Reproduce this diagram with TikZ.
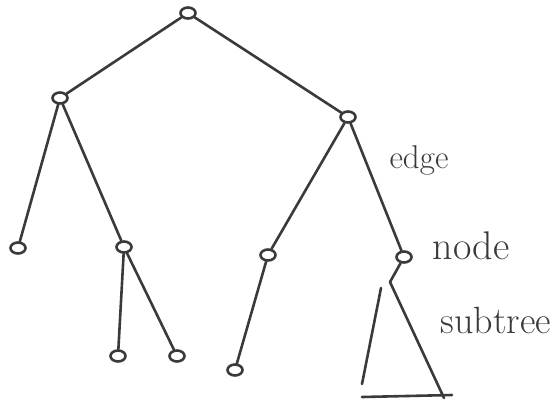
\documentclass[tikz,border=0pt]{standalone}
\usepackage{fontspec}
\usepackage{tikz}
\usetikzlibrary{calc,shapes.geometric}
\definecolor{pencil}{HTML}{3A3A3A}

\begin{document}
\begin{tikzpicture}[x=1pt,y=-1pt,
    vert/.style={draw=pencil,line width=2.6pt,ellipse,minimum width=15pt,minimum height=11pt,inner sep=0pt},
    edgeline/.style={draw=pencil,line width=2.6pt,line cap=round},
    note/.style={text=pencil,inner sep=0pt}]
  \useasboundingbox (0,0) rectangle (557,408);
  % tree vertices
  \node[vert] (root) at (188,13) {};
  \node[vert] (l)    at (60,98) {};
  \node[vert] (r)    at (348,117) {};
  \node[vert] (ll)   at (18,248) {};
  \node[vert] (lr)   at (124,247) {};
  \node[vert] (lrl)  at (118,356) {};
  \node[vert] (lrr)  at (177,356) {};
  \node[vert] (rl)   at (268,255) {};
  \node[vert] (rr)   at (404,257) {};
  \node[vert] (rll)  at (235,370) {};
  % edges
  \foreach \a/\b in {root/l,root/r,l/ll,l/lr,lr/lrl,lr/lrr,r/rl,r/rr,rl/rll}
    \draw[edgeline] (\a) -- (\b);
  % subtree
  \coordinate (apex) at (390,282);
  \coordinate (bl) at (362,384);
  \coordinate (br) at (444,398);
  \draw[edgeline] (rr) -- (apex);
  \draw[edgeline] (381,288) -- (bl);
  \draw[edgeline] (apex) -- (br);
  \draw[edgeline] (362,397) -- (452,395);
  % labels
  \node[note,font=\fontsize{33}{35}\selectfont] (edgelbl) at (419,160) {edge};
  \node[note,font=\fontsize{40}{42}\selectfont] (nodelbl) at (471,246) {node};
  \node[note,font=\fontsize{38}{40}\selectfont] (subtreelbl) at (496,320) {subtree};
\end{tikzpicture}
\end{document}
